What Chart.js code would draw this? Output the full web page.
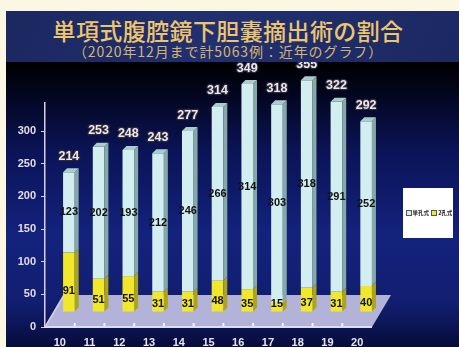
<!DOCTYPE html>
<html lang="ja">
<head>
<meta charset="utf-8">
<title>単項式腹腔鏡下胆嚢摘出術の割合</title>
<script src="https://cdn.jsdelivr.net/npm/chart.js@4.4.1/dist/chart.umd.min.js"></script>
<style>
  html, body { margin: 0; padding: 0; }
  body {
    width: 459px; height: 347px; overflow: hidden; position: relative;
    background: #fbf7e3;
    font-family: "Noto Sans CJK JP", "Noto Sans", sans-serif;
  }
  #head {
    position: absolute; left: 6px; top: 11px; width: 453px; height: 51px;
    background: linear-gradient(115deg, #1b2760 0%, #203070 45%, #1c2862 100%);
  }
  #title, #subtitle {
    position: absolute; left: 0; width: 456px; text-align: center; white-space: nowrap;
  }
  #title { top: 17px; font-size: 23px; line-height: 26px; color: #efc56c; letter-spacing: 0.4px; font-weight: 500; }
  #subtitle { top: 43px; font-size: 14px; line-height: 17px; color: #d8b46c; letter-spacing: 0.9px; }
  #panel {
    position: absolute; left: 6px; top: 62px; width: 453px; height: 285px;
    background: linear-gradient(180deg, #000000 0%, #03051c 10%, #0b1458 32%, #13227c 60%, #111e70 85%, #070c3a 100%);
  }
  #legend {
    position: absolute; left: 403px; top: 188px; width: 50px; height: 50px;
    background: #ffffff; display: flex; align-items: center; justify-content: center;
    font-size: 5.5px; font-weight: bold; color: #222; white-space: nowrap;
  }
  #legend .key { display: inline-block; width: 4px; height: 4px; border: 0.5px solid #555; margin: 0 1px 0 2px; vertical-align: middle; }
</style>
</head>
<body>
<div id="head"></div>
<div id="title">単項式腹腔鏡下胆嚢摘出術の割合</div>
<div id="subtitle">（2020年12月まで計5063例：近年のグラフ）</div>
<div id="panel"><canvas id="chart" width="453" height="285"></canvas></div>
<div id="legend"></div>

<script>
  // データ
  const years = ['10', '11', '12', '13', '14', '15', '16', '17', '18', '19', '20'];
  const singlePort = [123, 202, 193, 212, 246, 266, 314, 303, 318, 291, 252];
  const twoPort = [91, 51, 55, 31, 31, 48, 35, 15, 37, 31, 40];
  const seriesNames = ['単孔式', '2孔式'];

  const totals = years.map(function (y, i) {
    return singlePort[i] + twoPort[i];
  });

  // 立体風の見た目
  const DEPTH_X = 4, DEPTH_Y = -4;     // 棒の側面・上面
  const SHIFT_X = 9, SHIFT_Y = -15;    // 床の奥行き中央に棒を置く
  const FLOOR_X = 19, FLOOR_Y = -32;   // 床の奥行き

  function face(ctx, pts, color) {
    ctx.beginPath();
    ctx.moveTo(pts[0][0], pts[0][1]);
    for (let k = 1; k < pts.length; k++) ctx.lineTo(pts[k][0], pts[k][1]);
    ctx.closePath();
    ctx.fillStyle = color;
    ctx.fill();
  }

  const bar3d = {
    id: 'bar3d',
    beforeDatasetsDraw(chart) {
      const ctx = chart.ctx;
      const a = chart.chartArea;
      const x = chart.scales.x;
      ctx.save();
      // 床
      face(ctx, [
        [a.left, a.bottom], [a.right, a.bottom],
        [a.right + FLOOR_X, a.bottom + FLOOR_Y], [a.left + FLOOR_X, a.bottom + FLOOR_Y]
      ], '#b3b3d9');
      ctx.strokeStyle = '#d6d0ea';
      ctx.lineWidth = 1.5;
      ctx.beginPath();
      ctx.moveTo(a.left, a.bottom);
      ctx.lineTo(a.left + FLOOR_X, a.bottom + FLOOR_Y);
      ctx.stroke();
      ctx.strokeStyle = '#dcdcf2';
      ctx.lineWidth = 2;
      ctx.beginPath();
      ctx.moveTo(a.left, a.bottom);
      ctx.lineTo(a.right, a.bottom);
      ctx.stroke();
      // 目盛り
      ctx.fillStyle = '#f4f4ff';
      for (let i = 0; i < years.length - 1; i++) {
        const px = (x.getPixelForValue(i) + x.getPixelForValue(i + 1)) / 2;
        ctx.fillRect(px - 1, a.bottom - 4, 2, 3);
      }
      ctx.restore();
      ctx.save();
      ctx.translate(SHIFT_X, SHIFT_Y);
    },
    afterDatasetsDraw(chart) {
      const ctx = chart.ctx;
      const last = chart.data.datasets.length - 1;
      const boxes = [];
      chart.data.datasets.forEach(function (ds, di) {
        const meta = chart.getDatasetMeta(di);
        boxes[di] = [];
        meta.data.forEach(function (bar, i) {
          const p = bar.getProps(['x', 'y', 'base', 'width'], true);
          const l = p.x - p.width / 2, r = p.x + p.width / 2;
          const top = Math.min(p.y, p.base), bot = Math.max(p.y, p.base);
          boxes[di][i] = { x: p.x, top: top, bot: bot };
          face(ctx, [[r, top], [r + DEPTH_X, top + DEPTH_Y], [r + DEPTH_X, bot + DEPTH_Y], [r, bot]], ds.sideColor);
          if (di === last) {
            face(ctx, [[l, top], [l + DEPTH_X, top + DEPTH_Y], [r + DEPTH_X, top + DEPTH_Y], [r, top]], ds.topColor);
          }
        });
      });

      // 数値ラベル
      ctx.textAlign = 'center';
      ctx.textBaseline = 'middle';
      ctx.font = 'bold 11px "Liberation Sans", Arial, sans-serif';
      ctx.fillStyle = '#111111';
      boxes[0].forEach(function (b, i) {
        const h = b.bot - b.top;
        ctx.fillText(String(twoPort[i]), b.x, b.bot - Math.max(8, h * 0.35));
      });
      boxes[1].forEach(function (b, i) {
        ctx.fillText(String(singlePort[i]), b.x, (b.top + b.bot) / 2);
      });
      ctx.font = 'bold 12.5px "Liberation Sans", Arial, sans-serif';
      ctx.lineJoin = 'round';
      boxes[last].forEach(function (b, i) {
        ctx.strokeStyle = '#2a2a3a';
        ctx.lineWidth = 2.5;
        ctx.strokeText(String(totals[i]), b.x, b.top - 16);
        ctx.fillStyle = '#efe6ee';
        ctx.fillText(String(totals[i]), b.x, b.top - 16);
      });
      ctx.restore();
    }
  };

  const chart = new Chart(document.getElementById('chart'), {
    type: 'bar',
    data: {
      labels: years,
      datasets: [
        {
          label: seriesNames[1],
          data: twoPort,
          backgroundColor: '#f1e82c',
          sideColor: '#aca41c',
          topColor: '#d8d040',
          clip: false
        },
        {
          label: seriesNames[0],
          data: singlePort,
          backgroundColor: '#d2eef1',
          sideColor: '#86a8a8',
          topColor: '#aacccc',
          clip: false
        }
      ]
    },
    options: {
      responsive: false,
      animation: false,
      layout: { padding: { top: 41, right: 87, bottom: 0, left: 0 } },
      datasets: { bar: { categoryPercentage: 1, barPercentage: 0.39, borderWidth: 0 } },
      plugins: {
        legend: { display: false },
        tooltip: { enabled: false }
      },
      scales: {
        x: {
          stacked: true,
          grid: { display: false, drawTicks: false },
          border: { display: false },
          ticks: {
            color: '#e8e6f0',
            padding: 9,
            font: { family: '"Liberation Sans", Arial, sans-serif', size: 11, weight: 'bold' }
          },
          afterFit: function (scale) { scale.height = 20; }
        },
        y: {
          stacked: true,
          min: 0,
          max: 343,
          grid: { drawOnChartArea: false, drawTicks: true, tickLength: 4, color: '#d8d0e4' },
          border: { color: '#d8d0e4', width: 1.5 },
          ticks: {
            stepSize: 50,
            includeBounds: false,
            color: '#e4dce6',
            padding: 5,
            font: { family: '"Liberation Sans", Arial, sans-serif', size: 11, weight: 'bold' }
          },
          afterFit: function (scale) { scale.width = 39; }
        }
      }
    },
    plugins: [bar3d]
  });

  // 凡例（白い箱）
  const legend = document.getElementById('legend');
  chart.data.datasets.slice().reverse().forEach(function (ds) {
    const key = document.createElement('span');
    key.className = 'key';
    key.style.background = ds.backgroundColor;
    legend.appendChild(key);
    legend.appendChild(document.createTextNode(ds.label));
  });
</script>
</body>
</html>
